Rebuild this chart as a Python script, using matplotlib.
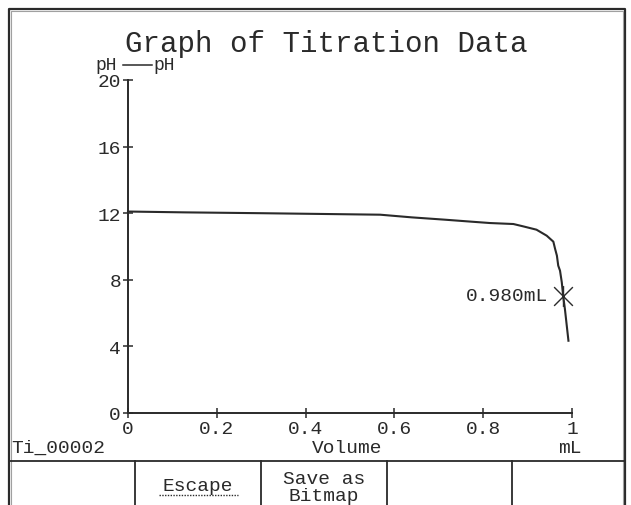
import matplotlib
matplotlib.use("Agg")
import matplotlib.pyplot as plt
from matplotlib.path import Path

plt.rcParams['font.family'] = ['Liberation Mono', 'DejaVu Sans Mono']

# titration readings: volume in mL, pH
volume = [0.000, 0.128, 0.300, 0.450, 0.568, 0.639, 0.714, 0.774, 0.815,
          0.868, 0.890, 0.920, 0.943, 0.958, 0.962, 0.966, 0.969, 0.973,
          0.977, 0.980, 0.984, 0.992]
ph = [12.10, 12.05, 12.00, 11.95, 11.91, 11.75, 11.61, 11.49, 11.41,
      11.35, 11.21, 11.01, 10.65, 10.29, 9.85, 9.45, 8.85, 8.55,
      7.85, 7.05, 6.25, 4.34]

endpoint_vol = 0.980
endpoint_ph = 7.05

xticks = [0, 0.2, 0.4, 0.6, 0.8, 1]
xticklabels = ['0', '0.2', '0.4', '0.6', '0.8', '1']
yticks = [0, 4, 8, 12, 16, 20]

ink = '#2a2a2a'
W, H = 631, 506

fig = plt.figure(figsize=(W / 100, H / 100), dpi=100)
fig.patch.set_facecolor('white')

# screen frame, labels and soft-key bar drawn in pixel coords
ov = fig.add_axes([0, 0, 1, 1], zorder=0)
ov.set_xlim(0, W)
ov.set_ylim(H, 0)
ov.axis('off')

ov.plot([9, 9, 625, 625], [H, 9.5, 9.5, H], color=ink, lw=1.6)
ov.plot([11, 11, 623, 623], [H, 11.5, 11.5, H], color='#a0a0a0', lw=0.8)
ov.plot([9, 625], [462, 462], color=ink, lw=1.3)
for xd in [135, 261, 387, 512]:
    ov.plot([xd, xd], [462, H], color=ink, lw=1.3)

ov.text(326, 52, 'Graph of Titration Data', fontsize=21, color=ink,
        ha='center', va='baseline')
ov.text(95, 70, 'pH', fontsize=13, color=ink, ha='left', va='baseline')
ov.plot([123, 152], [65.5, 65.5], color=ink, lw=1.1)
ov.text(153, 70, 'pH', fontsize=13, color=ink, ha='left', va='baseline')

ov.text(11, 453, 'Ti_00002', fontsize=14, color=ink, ha='left', va='baseline')
ov.text(347, 453, 'Volume', fontsize=14, color=ink, ha='center', va='baseline')
ov.text(570, 453, 'mL', fontsize=14, color=ink, ha='center', va='baseline')

ov.text(198, 491, 'Escape', fontsize=14, color=ink, ha='center', va='baseline')
ov.plot([159, 238], [495.5, 495.5], color=ink, lw=1.0, ls=(0, (1, 1)))
ov.text(324, 484, 'Save as', fontsize=14, color=ink, ha='center', va='baseline')
ov.text(324, 501, 'Bitmap', fontsize=14, color=ink, ha='center', va='baseline')

# the graph itself
x0, x1 = 128, 572
y0, y20 = 414, 81
ax = fig.add_axes([x0 / W, (H - y0) / H, (x1 - x0) / W, (y0 - y20) / H], zorder=1)
ax.set_facecolor('none')
ax.set_xlim(0, 1)
ax.set_ylim(0, 20)
for s in ['top', 'right']:
    ax.spines[s].set_visible(False)
for s in ['left', 'bottom']:
    ax.spines[s].set_color(ink)
    ax.spines[s].set_linewidth(1.4)

ax.set_xticks(xticks)
ax.set_xticklabels(xticklabels)
ax.set_yticks(yticks)
ax.tick_params(direction='inout', length=7, width=1.1, colors=ink,
               labelsize=14, pad=1.5)

ax.plot(volume, ph, color=ink, lw=1.5, clip_on=False)

star = Path([(0, -1), (0, 1), (-0.9, -0.9), (0.9, 0.9), (-0.9, 0.9), (0.9, -0.9)],
            [Path.MOVETO, Path.LINETO, Path.MOVETO, Path.LINETO, Path.MOVETO, Path.LINETO])
ax.plot([endpoint_vol], [endpoint_ph], marker=star, markersize=15,
        markeredgewidth=1.0, color=ink, linestyle='none', clip_on=False)
ax.annotate(f'{endpoint_vol:.3f}mL', (endpoint_vol, endpoint_ph),
            xytext=(-11, 0), textcoords='offset points', ha='right', va='center',
            fontsize=14, color=ink)

fig.savefig('out.png', dpi=100, facecolor='white')
